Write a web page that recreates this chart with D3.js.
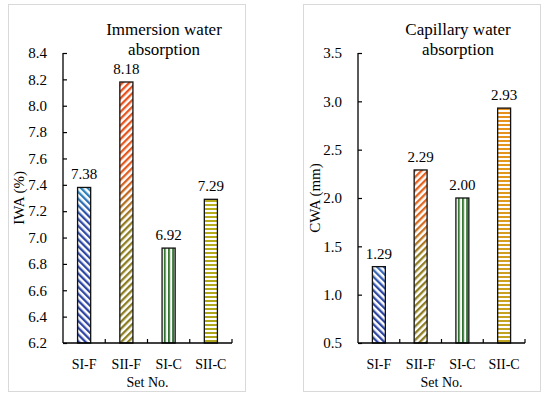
<!DOCTYPE html>
<html>
<head>
<meta charset="utf-8">
<script src="https://cdn.jsdelivr.net/npm/d3@7"></script>
<style>
  html, body { margin: 0; padding: 0; background: #fff; }
  svg text { font-family: "Liberation Serif", "Times New Roman", serif !important; fill: #000; }
</style>
</head>
<body>
<svg id="chart" width="550" height="399" font-family="Liberation Serif"></svg>
<script>
// ---- data ----
const categories = ["SI-F", "SII-F", "SI-C", "SII-C"];
const iwaValues = [7.38, 8.18, 6.92, 7.29];
const cwaValues = [1.29, 2.29, 2.00, 2.93];
const iwaTicks = [6.2, 6.4, 6.6, 6.8, 7.0, 7.2, 7.4, 7.6, 7.8, 8.0, 8.2, 8.4];
const cwaTicks = [0.5, 1.0, 1.5, 2.0, 2.5, 3.0, 3.5];
const iwaTitle = ["Immersion water", "absorption"];
const cwaTitle = ["Capillary water", "absorption"];
const iwaYLabel = "IWA (%)";
const cwaYLabel = "CWA (mm)";
const xLabel = "Set No.";
const stripeKinds = ["back", "fwd", "vert", "horiz"];
// gradient stops [offset, colour] from bar top to bar bottom
const iwaColors = [
  [[0, "#2a8cc0"], [0.2, "#2f4aa4"], [1, "#2e44a0"]],
  [[0, "#e8501c"], [0.35, "#e25a1e"], [0.55, "#8e7e20"], [1, "#8a7c20"]],
  [[0, "#3a7a34"], [1, "#2f6e30"]],
  [[0, "#b8ae1c"], [1, "#aca41a"]]
];
const cwaColors = [
  [[0, "#3a70bc"], [0.3, "#2f4aa4"], [1, "#2e44a0"]],
  [[0, "#e8601c"], [0.3, "#d86a20"], [0.5, "#927f20"], [1, "#8a7c20"]],
  [[0, "#3a7a34"], [1, "#2f6e30"]],
  [[0, "#e8901c"], [0.35, "#e09a1e"], [1, "#c0a420"]]
];

const svg = d3.select("#chart");
const defs = svg.append("defs");
const serif = "'Liberation Serif', 'Times New Roman', serif";

// stripe patterns used as masks
function addPattern(kind) {
  const p = defs.append("pattern").attr("id", "pat-" + kind).attr("patternUnits", "userSpaceOnUse");
  if (kind === "back" || kind === "fwd") {
    p.attr("width", 4.8).attr("height", 4.8)
     .attr("patternTransform", kind === "back" ? "rotate(-45)" : "rotate(45)");
    p.append("rect").attr("width", 4.8).attr("height", 4.8).attr("fill", "black");
    p.append("rect").attr("x", 0).attr("y", 0).attr("width", 2.3).attr("height", 4.8).attr("fill", "white");
  } else if (kind === "vert") {
    p.attr("width", 4.2).attr("height", 4);
    p.append("rect").attr("width", 4.2).attr("height", 4).attr("fill", "black");
    p.append("rect").attr("x", 0).attr("y", 0).attr("width", 2).attr("height", 4).attr("fill", "white");
  } else {
    p.attr("width", 4).attr("height", 4);
    p.append("rect").attr("width", 4).attr("height", 4).attr("fill", "black");
    p.append("rect").attr("x", 0).attr("y", 0).attr("width", 4).attr("height", 2).attr("fill", "white");
  }
  const m = defs.append("mask").attr("id", "mask-" + kind)
    .attr("maskUnits", "userSpaceOnUse").attr("x", 0).attr("y", 0).attr("width", 550).attr("height", 399);
  m.append("rect").attr("x", 0).attr("y", 0).attr("width", 550).attr("height", 399).attr("fill", "url(#pat-" + kind + ")");
}
stripeKinds.forEach(addPattern);

function drawPanel(cfg) {
  const g = svg.append("g");
  g.append("rect").attr("x", cfg.box[0] + 0.5).attr("y", cfg.box[1] + 0.5)
    .attr("width", cfg.box[2]).attr("height", cfg.box[3])
    .attr("fill", "white").attr("stroke", "#d9d9d9").attr("stroke-width", 1);

  const x = d3.scaleBand().domain(categories).range([cfg.x0, cfg.x1]).paddingInner(0).paddingOuter(0);
  const y = d3.scaleLinear().domain([cfg.ticks[0], cfg.ticks[cfg.ticks.length - 1]]).range([cfg.yb, cfg.yt]);
  const bw = x.bandwidth() * 0.31;

  cfg.values.forEach((v, i) => {
    const gr = defs.append("linearGradient").attr("id", cfg.id + "-grad-" + i)
      .attr("x1", 0).attr("y1", 0).attr("x2", 0).attr("y2", 1);
    cfg.colors[i].forEach(s => gr.append("stop").attr("offset", s[0]).attr("stop-color", s[1]));
  });

  const bx = (d, i) => x(categories[i]) + (x.bandwidth() - bw) / 2;
  const bars = g.selectAll("g.bar").data(cfg.values).join("g").attr("class", "bar");
  bars.append("rect").attr("x", bx).attr("y", d => y(d)).attr("width", bw)
    .attr("height", d => y(cfg.ticks[0]) - y(d)).attr("fill", "white");
  bars.append("rect").attr("x", bx).attr("y", d => y(d)).attr("width", bw)
    .attr("height", d => y(cfg.ticks[0]) - y(d))
    .attr("fill", (d, i) => "url(#" + cfg.id + "-grad-" + i + ")")
    .attr("mask", (d, i) => "url(#mask-" + stripeKinds[i] + ")");
  bars.append("rect").attr("x", bx).attr("y", d => y(d)).attr("width", bw)
    .attr("height", d => y(cfg.ticks[0]) - y(d))
    .attr("fill", "none").attr("stroke", "#111").attr("stroke-width", 1.3);
  bars.append("text")
    .attr("x", (d, i) => x(categories[i]) + x.bandwidth() / 2)
    .attr("y", d => y(d) - 8)
    .attr("text-anchor", "middle").attr("font-size", 15).style("font-family", serif)
    .text(d => d.toFixed(2));

  const yAxis = d3.axisLeft(y).tickValues(cfg.ticks).tickFormat(d3.format(".1f")).tickSize(-4).tickPadding(16);
  const ya = g.append("g").attr("transform", `translate(${cfg.x0},0)`).call(yAxis).attr("font-family", null);
  ya.select(".domain").attr("stroke", "#000").attr("stroke-width", 1.3).attr("d", `M0,${cfg.yb}V${cfg.yt}`);
  ya.selectAll(".tick line").attr("stroke", "#000").attr("stroke-width", 1.2);
  ya.selectAll(".tick text").attr("font-size", 15).style("font-family", serif).attr("fill", "#000");

  const xAxis = d3.axisBottom(x).tickSize(0).tickPadding(16);
  const xa = g.append("g").attr("transform", `translate(0,${cfg.yb})`).call(xAxis).attr("font-family", null);
  xa.select(".domain").attr("stroke", "#000").attr("stroke-width", 1.3).attr("d", `M${cfg.x0},0H${cfg.x1}`);
  xa.selectAll(".tick text").attr("font-size", 14).style("font-family", serif).attr("fill", "#000");
  const bounds = categories.slice(1).map(c => x(c)).concat([cfg.x1]);
  xa.selectAll("line.bnd").data(bounds).join("line").attr("class", "bnd")
    .attr("x1", d => d).attr("x2", d => d).attr("y1", 0).attr("y2", -4)
    .attr("stroke", "#000").attr("stroke-width", 1.2);

  g.append("text").attr("x", (cfg.x0 + cfg.x1) / 2).attr("y", 387)
    .attr("text-anchor", "middle").attr("font-size", 14).style("font-family", serif).text(xLabel);
  g.append("text").attr("transform", `translate(${cfg.ylx},198) rotate(-90)`)
    .attr("text-anchor", "middle").attr("dy", "0.35em").attr("font-size", 15).style("font-family", serif).text(cfg.yLabel);

  cfg.title.forEach((t, k) => {
    g.append("text").attr("x", cfg.tx).attr("y", 35 + k * 20)
      .attr("text-anchor", "middle").attr("font-size", 17).style("font-family", serif).text(t);
  });
}

drawPanel({ id: "iwa", box: [8, 4, 237, 387], x0: 63, x1: 232, yt: 53, yb: 343,
  values: iwaValues, ticks: iwaTicks, colors: iwaColors, title: iwaTitle, yLabel: iwaYLabel, ylx: 19, tx: 164 });
drawPanel({ id: "cwa", box: [303, 4, 237, 387], x0: 358, x1: 525, yt: 53, yb: 343,
  values: cwaValues, ticks: cwaTicks, colors: cwaColors, title: cwaTitle, yLabel: cwaYLabel, ylx: 315, tx: 458 });
</script>
</body>
</html>
